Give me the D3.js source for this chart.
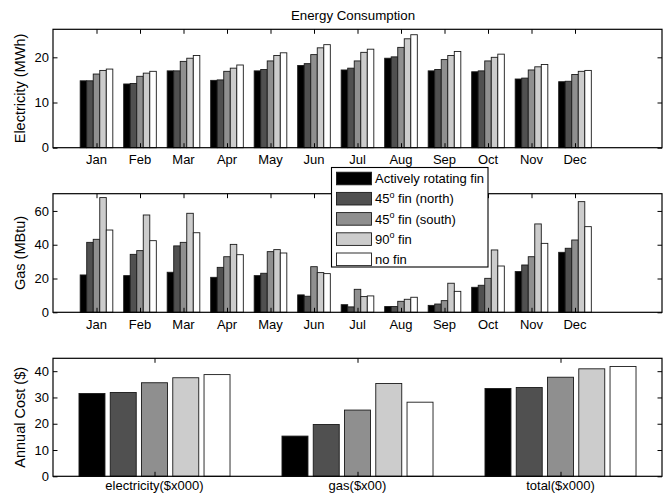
<!DOCTYPE html>
<html>
<head>
<meta charset="utf-8">
<script src="https://cdn.jsdelivr.net/npm/d3@7"></script>
<style>
  html, body { margin: 0; padding: 0; background: #fff; }
  svg { display: block; font-family: "Liberation Sans", Arial, Helvetica, sans-serif; }
</style>
</head>
<body>
<svg id="chart" width="667" height="498"></svg>
<script>
// Monthly categories and the five fin configurations (TeX-style ^o = superscript)
const months = ["Jan", "Feb", "Mar", "Apr", "May", "Jun", "Jul", "Aug", "Sep", "Oct", "Nov", "Dec"];
const seriesNames = ["Actively rotating fin", "45^o fin (north)", "45^o fin (south)", "90^o fin", "no fin"];
const seriesColors = ["#000000", "#505050", "#8f8f8f", "#cccccc", "#ffffff"];

// Electricity use per month (MWh), one row per month, one value per configuration
const electricityMWh = [
  [14.8, 14.8, 16.3, 17.1, 17.4],
  [14.1, 14.2, 15.8, 16.5, 16.9],
  [17.0, 17.0, 19.1, 19.8, 20.4],
  [14.9, 15.0, 16.9, 17.6, 18.3],
  [17.0, 17.3, 19.2, 20.4, 21.0],
  [18.2, 18.6, 20.6, 22.1, 22.8],
  [17.2, 17.6, 19.2, 21.1, 21.8],
  [19.8, 20.1, 22.2, 24.1, 25.0],
  [17.0, 17.3, 19.5, 20.4, 21.3],
  [16.8, 17.0, 19.2, 20.0, 20.7],
  [15.2, 15.4, 17.2, 17.9, 18.4],
  [14.6, 14.7, 16.2, 16.9, 17.1]
];

// Gas use per month (MBtu)
const gasMBtu = [
  [22.1, 41.4, 43.2, 67.9, 48.7],
  [21.7, 34.3, 36.5, 57.6, 42.4],
  [23.7, 39.3, 41.4, 58.6, 47.1],
  [20.7, 26.6, 32.9, 40.2, 34.1],
  [21.7, 23.1, 35.9, 37.1, 35.1],
  [10.3, 9.5, 27.0, 23.5, 22.9],
  [4.5, 3.2, 13.6, 9.3, 9.7],
  [3.4, 3.4, 6.5, 7.7, 8.9],
  [4.1, 4.9, 6.9, 17.2, 12.4],
  [14.8, 16.0, 20.1, 36.9, 27.4],
  [24.1, 28.0, 32.9, 52.3, 40.8],
  [35.5, 37.9, 42.8, 65.5, 50.7]
];

// Annual cost groups
const costCategories = ["electricity($x000)", "gas($x00)", "total($x000)"];
const annualCost = [
  [31.5, 31.9, 35.6, 37.5, 38.7],
  [15.3, 19.7, 25.2, 35.3, 28.2],
  [33.4, 33.8, 37.7, 40.9, 41.8]
];

// Axis tick values
const elecTicks = [0, 10, 20];
const gasTicks = [0, 20, 40, 60];
const costTicks = [0, 10, 20, 30, 40];

const svg = d3.select("#chart");
const left = 53, right = 662;
const tickLen = 4.5;
const fontSize = 13;

function drawPanel(cfg) {
  const g = svg.append("g");
  const x = d3.scaleLinear().domain(cfg.xDomain).range([left, right]);
  const y = d3.scaleLinear().domain(cfg.yDomain).range([cfg.bottom, cfg.top]);
  const n = seriesNames.length;

  // bars
  cfg.data.forEach((row, i) => {
    const center = i + 1;
    row.forEach((v, j) => {
      const c = center + (j - (n - 1) / 2) * cfg.step;
      const x0 = x(c - cfg.barW / 2), x1 = x(c + cfg.barW / 2);
      g.append("rect")
        .attr("x", x0)
        .attr("y", y(v))
        .attr("width", x1 - x0)
        .attr("height", y(0) - y(v))
        .attr("fill", seriesColors[j])
        .attr("stroke", "#1a1a1a")
        .attr("stroke-width", 0.9);
    });
  });

  // inward ticks on the bottom and top edges
  const xTickVals = cfg.data.map((d, i) => i + 1);
  const bottomAxis = d3.axisBottom(x).tickValues(xTickVals).tickSizeInner(-tickLen).tickSizeOuter(0).tickFormat("");
  const topAxis = d3.axisTop(x).tickValues(xTickVals).tickSizeInner(-tickLen).tickSizeOuter(0).tickFormat("");
  const leftAxis = d3.axisLeft(y).tickValues(cfg.yTicks).tickSizeInner(-tickLen).tickSizeOuter(0).tickFormat(d3.format("d")).tickPadding(4);
  const rightAxis = d3.axisRight(y).tickValues(cfg.yTicks).tickSizeInner(-tickLen).tickSizeOuter(0).tickFormat("");

  [
    [bottomAxis, `translate(0,${cfg.bottom})`],
    [topAxis, `translate(0,${cfg.top})`],
    [leftAxis, `translate(${left},0)`],
    [rightAxis, `translate(${right},0)`]
  ].forEach(([ax, tr]) => {
    const a = g.append("g").attr("transform", tr).call(ax);
    a.select(".domain").remove();
    a.selectAll("line").attr("stroke", "#000").attr("stroke-width", 1);
    a.selectAll("text").attr("font-size", fontSize).attr("font-family", "Liberation Sans, Arial, sans-serif").attr("fill", "#000");
  });

  // category labels under the box
  g.append("g").selectAll("text")
    .data(cfg.labels)
    .join("text")
    .attr("x", (d, i) => x(i + 1))
    .attr("y", cfg.labelY)
    .attr("text-anchor", "middle")
    .attr("font-size", fontSize)
    .text(d => d);

  // box
  g.append("rect")
    .attr("x", left).attr("y", cfg.top)
    .attr("width", right - left).attr("height", cfg.bottom - cfg.top)
    .attr("fill", "none").attr("stroke", "#000").attr("stroke-width", 1.2);

  // y axis title
  g.append("text")
    .attr("transform", `translate(${cfg.titleX},${(cfg.top + cfg.bottom) / 2}) rotate(-90)`)
    .attr("text-anchor", "middle")
    .attr("font-size", cfg.titleSize)
    .text(cfg.yTitle);
}

drawPanel({
  data: electricityMWh, labels: months,
  xDomain: [0, 14], yDomain: [0, 26.2], yTicks: elecTicks,
  top: 29.3, bottom: 147.7, step: 0.15, barW: 0.15,
  labelY: 164, yTitle: "Electricity (MWh)", titleX: 25, titleSize: 14.5
});

drawPanel({
  data: gasMBtu, labels: months,
  xDomain: [0, 14], yDomain: [0, 70.2], yTicks: gasTicks,
  top: 193.7, bottom: 312.3, step: 0.15, barW: 0.15,
  labelY: 328.5, yTitle: "Gas (MBtu)", titleX: 25, titleSize: 14.5
});

drawPanel({
  data: annualCost, labels: costCategories,
  xDomain: [0.5, 3.5], yDomain: [0, 44.9], yTicks: costTicks,
  top: 358.3, bottom: 476.3, step: 0.154, barW: 0.128,
  labelY: 490, yTitle: "Annual Cost ($)", titleX: 25, titleSize: 14.5
});

// chart title
svg.append("text")
  .attr("x", 353).attr("y", 19.5)
  .attr("text-anchor", "middle")
  .attr("font-size", 13.3)
  .text("Energy Consumption");

// legend box over the gas panel
const legend = svg.append("g");
const lgX = 331.5, lgY = 167.5, lgW = 156.5, lgH = 99.5, rowH = 20.2;
legend.append("rect")
  .attr("x", lgX).attr("y", lgY).attr("width", lgW).attr("height", lgH)
  .attr("fill", "#fff").attr("stroke", "#000").attr("stroke-width", 1.1);

seriesNames.forEach((name, j) => {
  const cy = lgY + 11 + j * rowH;
  legend.append("rect")
    .attr("x", 336.5).attr("y", cy - 6.3)
    .attr("width", 35).attr("height", 12.6)
    .attr("fill", seriesColors[j]).attr("stroke", "#1a1a1a").attr("stroke-width", 0.9);
  const t = legend.append("text")
    .attr("x", 375).attr("y", cy + 4.6)
    .attr("font-size", fontSize);
  const parts = name.split("^");
  if (parts.length === 1) {
    t.text(name);
  } else {
    t.append("tspan").text(parts[0]);
    t.append("tspan").attr("font-size", 9).attr("dy", -5.5).text(parts[1][0]);
    t.append("tspan").attr("dy", 5.5).text(parts[1].slice(1));
  }
});
</script>
</body>
</html>
